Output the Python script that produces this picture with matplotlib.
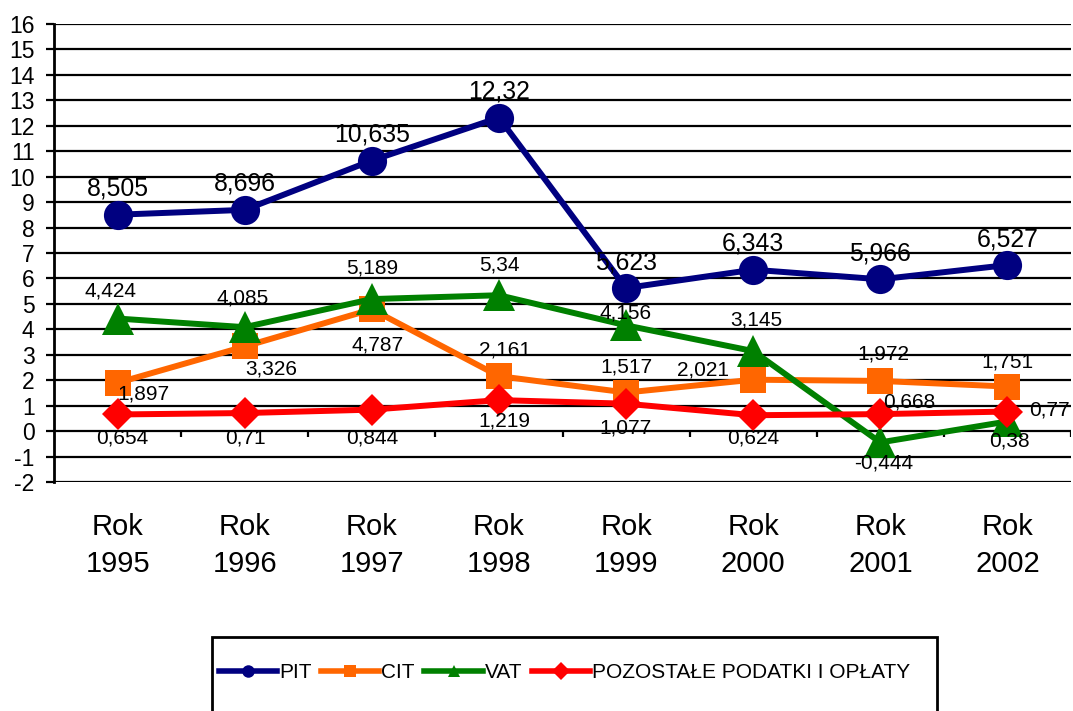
import matplotlib
matplotlib.use("Agg")
import matplotlib.pyplot as plt
from matplotlib.patches import Rectangle
from matplotlib.lines import Line2D

plt.rcParams['font.family'] = ['Liberation Sans', 'DejaVu Sans']

categories = ["Rok\n1995", "Rok\n1996", "Rok\n1997", "Rok\n1998",
              "Rok\n1999", "Rok\n2000", "Rok\n2001", "Rok\n2002"]
pit = [8.505, 8.696, 10.635, 12.32, 5.623, 6.343, 5.966, 6.527]
cit = [1.897, 3.326, 4.787, 2.161, 1.517, 2.021, 1.972, 1.751]
vat = [4.424, 4.085, 5.189, 5.34, 4.156, 3.145, -0.444, 0.38]
poz = [0.654, 0.71, 0.844, 1.219, 1.077, 0.624, 0.668, 0.77]
series_names = ["PIT", "CIT", "VAT", "POZOSTAŁE PODATKI I OPŁATY"]
y_ticks = list(range(-2, 17))

# label offsets in pixels (dx, dy)
off_pit = [(0, 26)] * 8
off_vat = [(-7, 28), (-2, 29), (0, 31), (0, 30), (0, 12), (3, 31), (3, -21), (2, -20)]
off_cit = [(26, -11), (27, -23), (6, -36), (6, 26), (0, 26), (-50, 10), (3, 27), (0, 25)]
off_poz = [(5, -24), (1, -25), (0, -28), (5, -21), (-1, -24), (0, -23), (29, 12), (42, 2)]

fig = plt.figure(figsize=(10.73, 7.11), dpi=100)
ax = fig.add_axes([54 / 1073, 1 - 482 / 711, (1071 - 54) / 1073, (482 - 24) / 711])

x = [i + 0.5 for i in range(len(categories))]

styles = [
    dict(color="#000080", marker="o", ms=21),
    dict(color="#FF6600", marker="s", ms=19),
    dict(color="#008000", marker="^", ms=23),
    dict(color="#FF0000", marker="D", ms=16),
]
data = [pit, cit, vat, poz]
offs = [off_pit, off_cit, off_vat, off_poz]
sizes = [17.8, 15, 15, 15]

for k, (vals, st) in enumerate(zip(data, styles)):
    ax.plot(x, vals, color=st["color"], lw=4.3, marker=st["marker"],
            markersize=st["ms"], markeredgewidth=0, zorder=3 + k, clip_on=False)

for vals, off, fs in zip(data, offs, sizes):
    for xi, v, (dx, dy) in zip(x, vals, off):
        ax.annotate(f"{v:g}".replace(".", ","), (xi, v), xytext=(dx, dy),
                    textcoords="offset pixels", ha="center", va="center",
                    fontsize=fs, color="black", zorder=10)

ax.set_xlim(0, len(categories))
ax.set_ylim(-2, 16)
ax.set_yticks(y_ticks)
ax.set_yticklabels([str(t) for t in y_ticks], fontsize=16.5)
ax.yaxis.grid(True, color="black", lw=1.6, zorder=0)
ax.set_axisbelow(True)
ax.tick_params(axis="y", direction="out", length=6, width=1.6, pad=8)
ax.set_xticks(x)
ax.set_xticklabels(categories, fontsize=21, linespacing=1.45)
ax.tick_params(axis="x", length=0, pad=22)
for s in ["top", "right", "bottom"]:
    ax.spines[s].set_visible(False)
ax.spines["left"].set_linewidth(2)
ax.spines["left"].set_zorder(2)

# category boundary ticks on the zero line
ax.vlines(range(1, len(categories) + 1), -0.25, 0, color="black", lw=1.6, zorder=2)

# legend
fig.patches.append(Rectangle((212 / 1073, -0.02), (937 - 212) / 1073, (711 - 637) / 711 + 0.02,
                             transform=fig.transFigure, fill=False, edgecolor="black",
                             lw=2, zorder=1))
handles = [Line2D([], [], color=st["color"], lw=4, marker=st["marker"],
                  markersize=9, markeredgewidth=0) for st in styles]
fig.legend(handles, series_names, loc="center", bbox_to_anchor=(564.5 / 1073, 1 - 673 / 711),
           ncol=4, frameon=False, fontsize=15, handlelength=2.8, handletextpad=0.1,
           columnspacing=0.45, borderpad=0, borderaxespad=0)

fig.savefig("out.png", dpi=100)
